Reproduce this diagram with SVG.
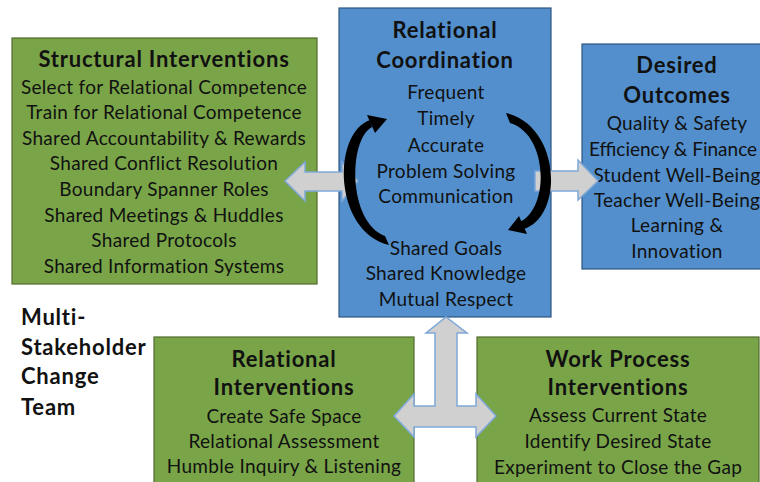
<svg xmlns="http://www.w3.org/2000/svg" width="760" height="482" viewBox="0 0 760 482">
<defs>
<style>
.green{fill:#79a548;stroke:#4f6b2e;stroke-width:1.2}
.blue{fill:#528fcc;stroke:#2f5680;stroke-width:1.2}
text{font-family:Lato,"Liberation Sans",sans-serif;fill:#111;text-anchor:middle}
.t{font-size:22px;font-weight:bold;letter-spacing:0.8px}
.b{font-size:19px;letter-spacing:0.3px}
.big{fill:#d0d0d0;stroke:#7fa8d8;stroke-width:1.5}
.cyc{fill:#000;stroke:none}
</style>
</defs>
<rect width="760" height="482" fill="#fff"/>

<g id="structural">
<rect class="green" x="12" y="38" width="305" height="246"/>
<text class="t" x="164" y="67">Structural Interventions</text>
<text class="b" x="164" y="94">Select for Relational Competence</text>
<text class="b" x="164" y="119">Train for Relational Competence</text>
<text class="b" x="164" y="145">Shared Accountability &amp; Rewards</text>
<text class="b" x="164" y="170">Shared Conflict Resolution</text>
<text class="b" x="164" y="196">Boundary Spanner Roles</text>
<text class="b" x="164" y="222">Shared Meetings &amp; Huddles</text>
<text class="b" x="164" y="247">Shared Protocols</text>
<text class="b" x="164" y="273">Shared Information Systems</text>
</g>

<g id="outcomes">
<rect class="blue" x="582" y="44" width="190" height="225"/>
<text class="t" x="677" y="73">Desired</text>
<text class="t" x="677" y="103">Outcomes</text>
<text class="b" x="677" y="130">Quality &amp; Safety</text>
<text class="b" x="673" y="156" style="letter-spacing:0">Efficiency &amp; Finance</text>
<text class="b" x="677" y="182">Student Well-Being</text>
<text class="b" x="677" y="207">Teacher Well-Being</text>
<text class="b" x="677" y="232">Learning &amp;</text>
<text class="b" x="677" y="258">Innovation</text>
</g>

<g id="relational-interventions">
<rect class="green" x="154" y="337" width="260" height="160"/>
<text class="t" x="284" y="367">Relational</text>
<text class="t" x="284" y="395">Interventions</text>
<text class="b" x="284" y="423">Create Safe Space</text>
<text class="b" x="284" y="448">Relational Assessment</text>
<text class="b" x="284" y="473">Humble Inquiry &amp; Listening</text>
</g>

<g id="work-process">
<rect class="green" x="477" y="337" width="282" height="160"/>
<text class="t" x="618" y="367">Work Process</text>
<text class="t" x="618" y="395">Interventions</text>
<text class="b" x="618" y="422">Assess Current State</text>
<text class="b" x="618" y="448">Identify Desired State</text>
<text class="b" x="618" y="474">Experiment to Close the Gap</text>
</g>

<g id="team-label">
<text class="t" x="21" y="325" style="text-anchor:start">Multi-</text>
<text class="t" x="21" y="355" style="text-anchor:start">Stakeholder</text>
<text class="t" x="21" y="384" style="text-anchor:start">Change</text>
<text class="t" x="21" y="415" style="text-anchor:start">Team</text>
</g>

<g id="coordination">
<rect class="blue" x="339" y="8" width="212" height="309"/>
<text class="t" x="445" y="38">Relational</text>
<text class="t" x="445" y="68">Coordination</text>
<text class="b" x="446" y="99">Frequent</text>
<text class="b" x="446" y="125">Timely</text>
<text class="b" x="446" y="152">Accurate</text>
<text class="b" x="446" y="178">Problem Solving</text>
<text class="b" x="446" y="203">Communication</text>
<text class="b" x="446" y="255">Shared Goals</text>
<text class="b" x="446" y="280">Shared Knowledge</text>
<text class="b" x="446" y="306">Mutual Respect</text>
</g>

<g id="connectors">
<path class="big" d="M285,181 L305,162 L305,172 L342,172 L342,162 L358,181 L342,201 L342,191 L305,191 L305,201 Z"/>
<path class="big" d="M535,171 L578,171 L578,160 L598,181 L578,200 L578,191 L535,191 Z"/>
<path class="big" d="M394,416 L414,394 L414,406 L435,406 L435,333 L426,333 L446,317 L467,333 L457,333 L457,406 L476,406 L476,394 L496,416 L476,437 L476,427 L414,427 L414,437 Z"/>
<path class="cyc" d="M389,245 C333,231 332,133 370,120 L372,127 C348,140 348,222 385,236 Z"/>
<path class="cyc" d="M367,115 L387,119 L375,133 Z"/>
<path class="cyc" d="M506,113 C561,126 564,216 524,229 L520,222 C550,208 548,134 510,123 Z"/>
<path class="cyc" d="M527,234 L508,230 L519,216 Z"/>
</g>
</svg>
